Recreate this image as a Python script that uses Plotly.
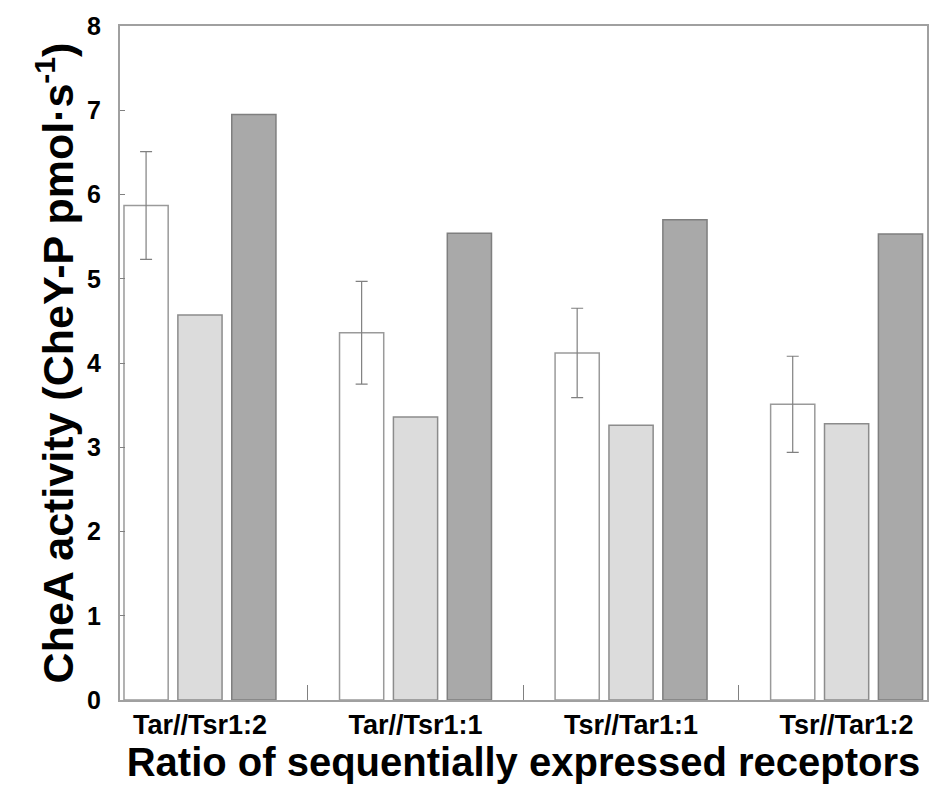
import plotly.graph_objects as go

categories = ["Tar//Tsr1:2", "Tar//Tsr1:1", "Tsr//Tar1:1", "Tsr//Tar1:2"]
white_vals = [5.87, 4.36, 4.12, 3.51]
white_err = [0.64, 0.61, 0.53, 0.57]
light_vals = [4.57, 3.36, 3.26, 3.28]
dark_vals = [6.95, 5.54, 5.70, 5.53]
y_ticks = [0, 1, 2, 3, 4, 5, 6, 7, 8]

fig = go.Figure()
fig.add_trace(go.Bar(
    x=categories, y=white_vals,
    marker=dict(color="white", line=dict(color="#9a9a9a", width=1.5)),
    error_y=dict(type="data", array=white_err, color="#808080", thickness=1.2, width=6),
    showlegend=False,
))
fig.add_trace(go.Bar(
    x=categories, y=light_vals,
    marker=dict(color="#dcdcdc", line=dict(color="#8c8c8c", width=1.5)),
    showlegend=False,
))
fig.add_trace(go.Bar(
    x=categories, y=dark_vals,
    marker=dict(color="#a9a9a9", line=dict(color="#7f7f7f", width=1.5)),
    showlegend=False,
))

fig.update_layout(
    width=938, height=795,
    margin=dict(l=120, r=11, t=26, b=95),
    paper_bgcolor="white", plot_bgcolor="white",
    barmode="group", bargap=0.25, bargroupgap=0.18,
    font=dict(family="Liberation Sans, Arial, sans-serif", color="black"),
)
fig.update_xaxes(
    range=[-0.371, 3.373], automargin=False,
    showline=True, linecolor="#a0a0a0", linewidth=2, mirror=True,
    ticks="inside", tickson="boundaries", ticklen=15, tickcolor="#808080", tickwidth=1,
    tickfont=dict(family="Liberation Sans, Arial", size=27, color="black", weight="bold"),
    title=dict(text="<b>Ratio of sequentially expressed receptors</b>", font=dict(size=40), standoff=2),
    showgrid=False,
)
fig.update_yaxes(
    range=[0, 8], tickvals=y_ticks, automargin=False,
    showline=True, linecolor="#a0a0a0", linewidth=2, mirror=True,
    ticks="inside", ticklen=5, tickcolor="#808080", tickwidth=1,
    ticklabelstandoff=12,
    tickfont=dict(size=25, color="black", weight="bold"),
    title=dict(text="<b>CheA activity (CheY-P pmol·s<sup>-1</sup>)</b>", font=dict(size=43), standoff=0),
    showgrid=False, zeroline=False,
)

fig.write_html("out.html")
